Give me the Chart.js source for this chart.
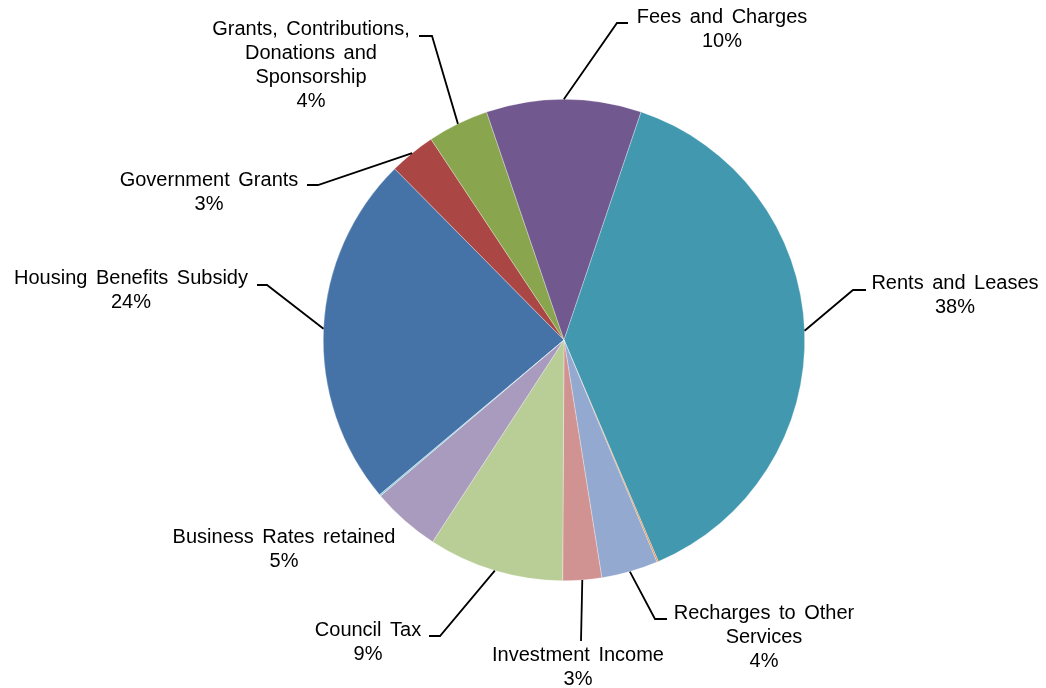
<!DOCTYPE html>
<html>
<head>
    <title>Income by Source</title>
    <script src="https://cdn.jsdelivr.net/npm/chart.js"></script>
    <style>
        html, body {
            margin: 0;
            padding: 0;
            background: #fff;
        }
        #wrap {
            width: 1046px;
            height: 688px;
        }
    </style>
</head>
<body>
    <div id="wrap"><canvas id="incomeChart" width="1046" height="688"></canvas></div>

    <script>
        // Income sources, clockwise from the Housing Benefits slice
        const categories = [
            'Housing Benefits Subsidy',
            'Government Grants',
            'Grants, Contributions,\nDonations and\nSponsorship',
            'Fees and Charges',
            'Rents and Leases',
            'Other',
            'Recharges to Other\nServices',
            'Investment Income',
            'Council Tax',
            'Business Rates retained',
            'Miscellaneous'
        ];
        const shares = [23.7, 3.1, 4.1, 10.4, 38.4, 0.1, 3.8, 2.6, 9.1, 4.6, 0.1];
        const sliceColors = [
            '#4572A7', '#AA4643', '#89A54E', '#71588F', '#4198AF', '#E8883A',
            '#93A9CF', '#D19392', '#B9CD96', '#A99BBD', '#92CDDC'
        ];

        // Where each label sits: text centre, first line y, and the leader's elbow/end
        // (null = no label drawn for that slice)
        const labelLayout = [
            { cx: 131, y: 278, elbow: [267, 285], end: [257, 285] },
            { cx: 209, y: 180, elbow: [318, 185], end: [307, 185] },
            { cx: 311, y: 29,  elbow: [432, 36],  end: [419, 36] },
            { cx: 722, y: 17,  elbow: [617, 23],  end: [628, 23] },
            { cx: 955, y: 283, elbow: [853, 290], end: [866, 290] },
            null,
            { cx: 764, y: 613, elbow: [655, 619], end: [667, 619] },
            { cx: 578, y: 655, elbow: [581, 641], end: null },
            { cx: 368, y: 630, elbow: [440, 636], end: [429, 636] },
            { cx: 284, y: 537, elbow: null, end: null },
            null
        ];

        const total = shares.reduce((a, b) => a + b, 0);

        const calloutPlugin = {
            id: 'callouts',
            afterDatasetsDraw(chart) {
                const ctx = chart.ctx;
                const arcs = chart.getDatasetMeta(0).data;
                ctx.save();
                ctx.font = '20px "Liberation Sans", Arial, sans-serif';
                ctx.fillStyle = '#000';
                ctx.textAlign = 'center';
                ctx.textBaseline = 'middle';
                if ('wordSpacing' in ctx) ctx.wordSpacing = '3px';

                arcs.forEach((arc, i) => {
                    const lay = labelLayout[i];
                    if (!lay) return;

                    // leader from the middle of the slice's rim
                    if (lay.elbow) {
                        const mid = (arc.startAngle + arc.endAngle) / 2;
                        const rx = arc.x + Math.cos(mid) * arc.outerRadius;
                        const ry = arc.y + Math.sin(mid) * arc.outerRadius;
                        ctx.beginPath();
                        ctx.moveTo(rx, ry);
                        ctx.lineTo(lay.elbow[0], lay.elbow[1]);
                        if (lay.end) ctx.lineTo(lay.end[0], lay.end[1]);
                        ctx.strokeStyle = '#000';
                        ctx.lineWidth = 1.8;
                        ctx.stroke();
                    }

                    const lines = categories[i].split('\n');
                    lines.push(Math.round(shares[i] / total * 100) + '%');
                    lines.forEach((t, k) => {
                        ctx.fillText(t, lay.cx, lay.y + k * 24);
                    });
                });
                ctx.restore();
            }
        };

        new Chart(document.getElementById('incomeChart'), {
            type: 'pie',
            data: {
                labels: categories,
                datasets: [{
                    data: shares,
                    backgroundColor: sliceColors,
                    borderColor: 'rgba(255,255,255,0.6)',
                    borderWidth: 0.5
                }]
            },
            options: {
                responsive: false,
                animation: false,
                rotation: 230,
                layout: {
                    padding: { top: 99, bottom: 107, left: 323, right: 241 }
                },
                plugins: {
                    legend: { display: false },
                    tooltip: { enabled: false }
                }
            },
            plugins: [calloutPlugin]
        });
    </script>
</body>
</html>
